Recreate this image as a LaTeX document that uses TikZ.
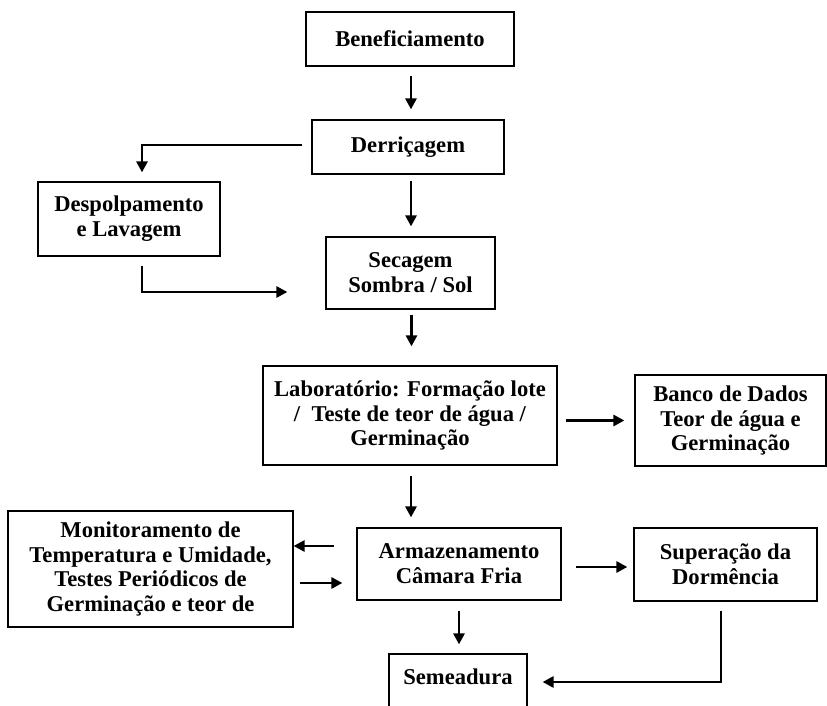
\documentclass[tikz,border=0pt]{standalone}
\usepackage{fontspec}
\setmainfont{Liberation Serif}
\usepackage{tikz}
\usetikzlibrary{arrows.meta}

\begin{document}
\begin{tikzpicture}[x=0.5pt, y=-0.5pt,
    box/.style={draw, line width=0.6pt, inner sep=2pt,
      font=\bfseries\fontsize{11.3}{12.4}\selectfont},
    mbox/.style={box, align=center},
    arr/.style={-{Triangle[length=5.5pt, width=5.5pt]}, line width=1.4pt}]
  \useasboundingbox (0,0) rectangle (827,706);
  \clip (0,0) rectangle (827,706);
  % boxes
  \node[mbox, minimum width=104pt, minimum height=27pt] (ben) at (410,39) {Beneficiamento};
  \node[mbox, minimum width=96pt, minimum height=27pt] (derr) at (408,147) {Derriçagem};
  \node[mbox, minimum width=91pt, minimum height=37pt] (desp) at (129,219) {Despolpamento\\e Lavagem};
  \node[mbox, minimum width=84.5pt, minimum height=36pt] (sec) at (410.5,273) {Secagem\\Sombra / Sol};
  \node[mbox, minimum width=147pt, minimum height=49.5pt] (lab) at (410,415.5) {Laboratório: Formação lote\\/\ \ Teste de teor de água /\\Germinação};
  \node[mbox, minimum width=95.5pt, minimum height=45.5pt] (banco) at (730.5,420.5) {Banco de Dados\\Teor de água e\\Germinação};
  \node[mbox, minimum width=142.5pt, minimum height=58pt] (mon) at (150.5,569) {Monitoramento de\\Temperatura e Umidade,\\Testes Periódicos de\\Germinação e teor de};
  \node[mbox, minimum width=102pt, minimum height=36pt] (arm) at (459,564) {Armazenamento\\Câmara Fria};
  \node[mbox, minimum width=91.5pt, minimum height=36.5pt] (sup) at (725.5,564.5) {Superação da\\Dormência};
  \node[box, anchor=base, inner ysep=0pt, minimum width=69pt, text height=15.25pt, text depth=25pt] (sem) at (458,684.5) {Semeadura};
  % helper points
  \coordinate (am1) at ([yshift=9pt]arm.west);
  \coordinate (ma1) at ([yshift=-9.5pt]arm.west);
  % connectors
  \draw[arr, shorten <=4.5pt, shorten >=5pt] ([xshift=0.5pt]ben.south) -- ([xshift=0.5pt]ben.south |- derr.north);
  \draw[arr, shorten <=4.5pt, shorten >=4.5pt] ([yshift=1pt]derr.west) -| ([xshift=6.5pt]desp.north);
  \draw[arr, shorten <=3pt, shorten >=5pt] ([xshift=1.5pt]derr.south) -- ([xshift=1.5pt]derr.south |- sec.north);
  \draw[arr, shorten <=4.5pt, shorten >=19pt] ([xshift=6.5pt]desp.south) |- ([yshift=-9.5pt]sec.west);
  \draw[arr, shorten <=2.5pt, shorten >=9.5pt] ([xshift=0.5pt]sec.south) -- ([xshift=0.5pt]sec.south |- lab.north);
  \draw[arr, shorten <=4pt, shorten >=5pt] (lab.east |- banco.west) -- (banco.west);
  \draw[arr, shorten <=5pt, shorten >=5pt] ([xshift=0.5pt]lab.south) -- ([xshift=0.5pt]lab.south |- arm.north);
  \draw[arr, shorten <=11pt] (am1) -- (am1 -| mon.east);
  \draw[arr, shorten <=3pt, shorten >=7pt] (ma1 -| mon.east) -- (ma1);
  \draw[arr, shorten <=7pt, shorten >=3pt] ([yshift=-1.5pt]arm.east) -- ([yshift=-1.5pt]arm.east -| sup.west);
  \draw[arr, shorten <=5pt, shorten >=4.5pt] (arm.south) -- (arm.south |- sem.north);
  \draw[arr, shorten <=4.5pt, shorten >=7.5pt] ([xshift=-2.25pt]sup.south) |- ([yshift=1.25pt]sem.base east);
\end{tikzpicture}
\end{document}
